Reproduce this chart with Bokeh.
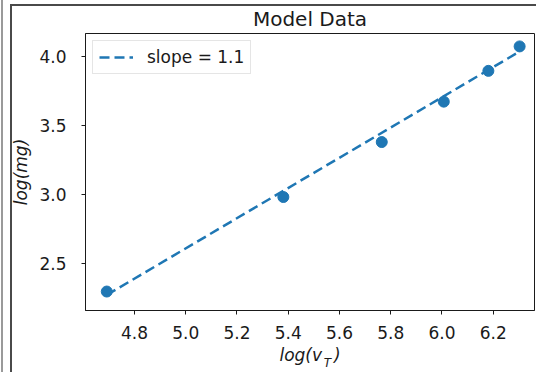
from bokeh.plotting import figure
from bokeh.models import (Range1d, FixedTicker, Legend, LegendItem, LinearAxis,
                          PrintfTickFormatter, InlineStyleSheet)
from bokeh.embed import file_html
from bokeh.resources import INLINE

# data
log_vT = [4.692, 5.381, 5.765, 6.007, 6.181, 6.303]
log_mg = [2.293, 2.981, 3.381, 3.675, 3.899, 4.077]
fit_x = [4.692, 6.303]
fit_y = [2.268, 4.040]
x_ticks = [4.8, 5.0, 5.2, 5.4, 5.6, 5.8, 6.0, 6.2]
y_ticks = [2.5, 3.0, 3.5, 4.0]
title_text = "Model Data"
legend_text = "slope = 1.1"
x_label_main = "log(v\u2002\u2009)"
x_label_sub = "T"
y_label = "log(mg)"

# layout / style constants
FONT = "DejaVu Sans"
BLUE = "#1f77b4"
INK = "#1a1a1a"
SUB_POS = 5.553  # where the subscript of the x label sits, along x

frame_css = InlineStyleSheet(css="""
:host { position: relative; }
:host::after {
  content: ""; position: absolute; left: 1px; top: 0px; bottom: 0px; width: 12px;
  border-left: 2px solid #9a9a9a; box-sizing: border-box;
  background: linear-gradient(to right, transparent 7px, #4a4a4a 7px, #4a4a4a 9px, transparent 9px);
  background-size: 100% calc(100% - 4px); background-position: 0 4px; background-repeat: no-repeat;
  pointer-events: none; z-index: 10;
}
:host::before {
  content: ""; position: absolute; left: 10px; top: 4px; right: 0px; height: 2px;
  background: #4a4a4a; pointer-events: none; z-index: 10;
}
""")

p = figure(width=536, height=372, output_backend="svg", toolbar_location=None,
           x_range=Range1d(4.609, 6.361), y_range=Range1d(2.155, 4.171),
           min_border_left=85, min_border_right=2, min_border_top=33,
           min_border_bottom=60, stylesheets=[frame_css])
p.grid.visible = False
p.background_fill_color = "white"
p.border_fill_color = "white"
p.outline_line_color = INK
p.outline_line_width = 1

p.title.text = title_text
p.title.align = "center"
p.title.text_font = FONT
p.title.text_font_size = "20px"
p.title.text_font_style = "normal"
p.title.text_color = INK
p.title.standoff = 5

for ax in (p.xaxis[0], p.yaxis[0]):
    ax.axis_line_color = INK
    ax.major_tick_line_color = INK
    ax.major_tick_in = 0
    ax.major_tick_out = 4
    ax.minor_tick_line_color = None
    ax.major_label_text_font = FONT
    ax.major_label_text_font_size = "17px"
    ax.major_label_text_color = INK
    ax.formatter = PrintfTickFormatter(format="%.1f")
    ax.axis_label_text_font = FONT
    ax.axis_label_text_font_size = "17px"
    ax.axis_label_text_font_style = "italic"
    ax.axis_label_text_color = INK

p.xaxis[0].ticker = FixedTicker(ticks=x_ticks)
p.yaxis[0].ticker = FixedTicker(ticks=y_ticks)
p.xaxis[0].major_label_standoff = 11
p.yaxis[0].major_label_standoff = 15
p.xaxis[0].axis_label = x_label_main
p.xaxis[0].axis_label_standoff = 3
p.yaxis[0].axis_label = y_label
p.yaxis[0].axis_label_standoff = 5

# subscript of the x label, carried by a bare extra axis
sub_axis = LinearAxis(ticker=FixedTicker(ticks=[SUB_POS]),
                      major_label_overrides={SUB_POS: x_label_sub},
                      axis_line_color=None, major_tick_line_color=None,
                      minor_tick_line_color=None, major_tick_in=0, major_tick_out=0,
                      major_label_standoff=-12, major_label_text_font=FONT,
                      major_label_text_font_size="12px",
                      major_label_text_font_style="italic",
                      major_label_text_color=INK)
p.add_layout(sub_axis, "below")

line_r = p.line(fit_x, fit_y, line_color=BLUE, line_width=2.5, line_dash="10 5")
p.scatter(log_vT, log_mg, size=11, fill_color=BLUE, line_color=BLUE)

legend = Legend(items=[LegendItem(label=legend_text, renderers=[line_r])],
                location="top_left")
legend.label_text_font = FONT
legend.label_text_font_size = "17px"
legend.label_text_color = INK
legend.glyph_width = 34
legend.glyph_height = 20
legend.label_standoff = 14
legend.padding = 6
legend.margin = 7
legend.border_line_color = "#cccccc"
legend.border_line_width = 1
legend.background_fill_alpha = 0.8
p.add_layout(legend)

open("out.html", "w").write(file_html(p, INLINE))
